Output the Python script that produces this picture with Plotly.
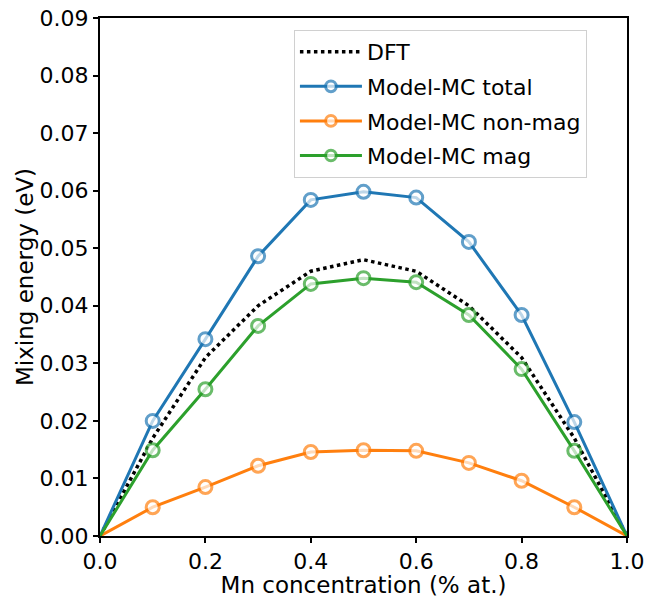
import plotly.graph_objects as go

x = [0.0, 0.1, 0.2, 0.3, 0.4, 0.5, 0.6, 0.7, 0.8, 0.9, 1.0]
dft = [0.0, 0.017, 0.031, 0.040, 0.046, 0.048, 0.046, 0.040, 0.031, 0.017, 0.0]
total = [0.0, 0.0200, 0.0342, 0.0486, 0.0584, 0.0598, 0.0588, 0.0511, 0.0384, 0.0198, 0.0]
nonmag = [0.0, 0.0050, 0.0085, 0.0122, 0.0146, 0.0149, 0.0148, 0.0127, 0.0096, 0.0050, 0.0]
mag = [0.0, 0.0149, 0.0255, 0.0365, 0.0438, 0.0448, 0.0441, 0.0384, 0.0290, 0.0148, 0.0]

xticks = [0.0, 0.2, 0.4, 0.6, 0.8, 1.0]
yticks = [0.00, 0.01, 0.02, 0.03, 0.04, 0.05, 0.06, 0.07, 0.08, 0.09]

msizes = [0] + [13] * (len(x) - 2) + [0]

fig = go.Figure()
fig.add_trace(go.Scatter(x=x, y=dft, mode="lines", name="DFT", legendgroup="a",
                         line=dict(color="black", width=3.5, dash="dot")))
for i, (name, ys, col) in enumerate([("Model-MC total", total, "#1f77b4"),
                                     ("Model-MC non-mag", nonmag, "#ff7f0e"),
                                     ("Model-MC mag", mag, "#2ca02c")]):
    fig.add_trace(go.Scatter(x=x, y=ys, mode="lines+markers", name=name, legendgroup=f"g{i}",
                             line=dict(color=col, width=3),
                             marker=dict(symbol="circle", size=msizes, color="white",
                                         line=dict(color=col, width=3))))

fig.update_layout(
    width=645, height=598,
    margin=dict(l=100, r=18, t=18, b=62),
    paper_bgcolor="white", plot_bgcolor="white",
    font=dict(family="DejaVu Sans", size=22, color="black"),
    legend=dict(x=0.368, y=0.977, xanchor="left", yanchor="top",
                bgcolor="rgba(255,255,255,0.8)", bordercolor="#d0d0d0", borderwidth=1,
                font=dict(size=22), itemwidth=62, tracegroupgap=3),
    showlegend=True,
)
fig.update_xaxes(range=[0, 1], tickvals=xticks, ticktext=[f"{v:.1f}" for v in xticks],
                 automargin=False, ticklabeloverflow="allow",
                 showgrid=False, zeroline=False, showline=True, linecolor="black", linewidth=2,
                 mirror=True, ticks="outside", ticklen=5, tickwidth=1.5, tickcolor="black",
                 title=dict(text="Mn concentration (% at.)", font=dict(size=23), standoff=3))
fig.update_yaxes(range=[0, 0.09], tickvals=yticks, ticktext=[f"{v:.2f}" for v in yticks],
                 automargin=False, ticklabeloverflow="allow",
                 showgrid=False, zeroline=False, showline=True, linecolor="black", linewidth=2,
                 mirror=True, ticks="outside", ticklen=5, tickwidth=1.5, tickcolor="black",
                 title=dict(text="Mixing energy (eV)", font=dict(size=23), standoff=0))

fig.write_html("out.html", config={"displayModeBar": False},
               post_script="document.body.style.margin='0';")
